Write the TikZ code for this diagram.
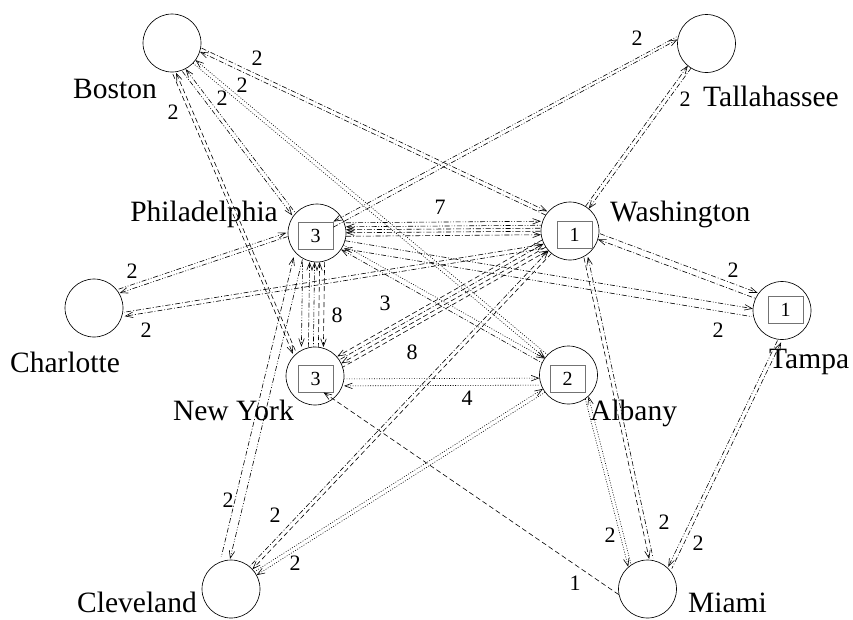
\documentclass[tikz,border=0pt]{standalone}
\usepackage{fontspec}
\setmainfont{Liberation Serif}
\usetikzlibrary{arrows.meta,calc}
\tikzset{
  city/.style={circle,draw,line width=0.65pt,minimum size=58pt,inner sep=0pt},
  cbox/.style={draw=black!55,line width=0.8pt,minimum width=35pt,minimum height=27pt,inner sep=0pt,font=\fontsize{20}{21}\selectfont},
  cname/.style={inner sep=0pt,font=\fontsize{29.5}{30}\selectfont},
  elab/.style={inner sep=0pt,font=\fontsize{22}{23}\selectfont},
  lnk/.style={line width=0.6pt,shorten <=29pt,shorten >=29pt},
  lnkb/.style={line width=0.6pt},
  ldot/.style={dash pattern=on 0.9pt off 1.6pt},
  ldash/.style={dash pattern=on 5pt off 3pt},
  ldd/.style={dash pattern=on 5pt off 2pt on 0.9pt off 2pt},
  lddd/.style={dash pattern=on 5pt off 1.8pt on 0.9pt off 1.8pt on 0.9pt off 1.8pt},
}
\newcommand\conn[5]{\draw[lnk,#4,#5] ($(#1)!#3!90:(#2)$) -- ($(#2)!#3!-90:(#1)$);}
\begin{document}
\begin{tikzpicture}[x=1pt,y=-1pt,>={Straight Barb[length=7.5pt,width=5.5pt]}]
\useasboundingbox (0,0) rectangle (853,619);
% cities
\node[city] (bos) at (172,43) {};
\node[city] (tal) at (706.5,43.5) {};
\node[city] (phi) at (317,233) {};
\node[city] (was) at (570,231) {};
\node[city] (cha) at (94,308) {};
\node[city] (tam) at (782,310.5) {};
\node[city] (ny)  at (315,376) {};
\node[city] (alb) at (568.5,375) {};
\node[city] (cle) at (231,589) {};
\node[city] (mia) at (647.5,589) {};
% boxes
\node[cbox] (phb) at (315.5,235.5) {3};
\node[cbox] (wab) at (574.5,235) {1};
\node[cbox] (tab) at (785.5,310) {1};
\node[cbox] (nyb) at (315.5,378.5) {3};
\node[cbox] (alx) at (567.5,378.5) {2};
% names
\node[cname,anchor=base west] (nbos) at (73,98) {Boston};
\node[cname,anchor=base west] (ntal) at (703,106) {Tallahassee};
\node[cname,anchor=base east] (nphi) at (278,221) {Philadelphia};
\node[cname,anchor=base west] (nwas) at (610,221) {Washington};
\node[cname,anchor=base west] (ncha) at (10,372) {Charlotte};
\node[cname,anchor=base west] (ntam) at (769,368) {Tampa};
\node[cname,anchor=base east] (nny)  at (294,420) {New York};
\node[cname,anchor=base west] (nalb) at (590,420) {Albany};
\node[cname,anchor=base east] (ncle) at (197,612) {Cleveland};
\node[cname,anchor=base west] (nmia) at (688,612) {Miami};
% Boston links
\conn{bos}{was}{4pt}{ldd}{<-}
\conn{bos}{was}{8pt}{ldd}{->}
\conn{bos}{alb}{2pt}{ldot}{<-}
\conn{bos}{alb}{-2pt}{ldot}{->}
\conn{bos}{phi}{-5pt}{lddd}{<-}
\conn{bos}{phi}{-9pt}{lddd}{->}
\conn{bos}{ny}{-8pt}{ldash}{<-}
\conn{bos}{ny}{-11.5pt}{ldash}{->}
% Tallahassee links
\draw[lnkb,lddd,<-] (phb.north east) -- (tal.165);
\draw[lnkb,lddd,->] (phb.25) -- (tal.172);
\conn{was}{tal}{2pt}{ldd}{->}
\conn{was}{tal}{-2pt}{ldd}{<-}
% Philadelphia - Washington
\conn{phi}{was}{10pt}{lddd}{->}
\conn{phi}{was}{6pt}{lddd}{<-}
\conn{phi}{was}{3pt}{ldd}{<-}
\conn{phi}{was}{0pt}{ldd}{<-}
\conn{phi}{was}{-3.5pt}{ldd}{->}
% Charlotte
\conn{phi}{cha}{-6pt}{lddd}{->}
\conn{phi}{cha}{-10pt}{lddd}{<-}
\conn{was}{cha}{9pt}{ldd}{<-}
\conn{was}{cha}{13pt}{ldd}{->}
% Tampa
\conn{was}{tam}{2pt}{ldd}{<-}
\conn{was}{tam}{8pt}{ldd}{->}
\conn{phi}{tam}{-3pt}{lddd}{->}
\conn{phi}{tam}{-11pt}{lddd}{<-}
% Philadelphia - New York
\conn{phi}{ny}{-14pt}{lddd}{->}
\conn{phi}{ny}{-7pt}{ldd}{<-}
\conn{phi}{ny}{-2pt}{lddd}{<-}
\conn{phi}{ny}{3pt}{ldash}{<-}
\conn{phi}{ny}{8pt}{ldash}{->}
% Philadelphia - Albany
\conn{phi}{alb}{2.5pt}{ldot}{->}
\conn{phi}{alb}{-2.5pt}{lddd}{<-}
% Washington - New York
\conn{was}{ny}{-6pt}{ldash}{->}
\conn{was}{ny}{-2pt}{ldd}{<-}
\conn{was}{ny}{2pt}{ldash}{->}
\conn{was}{ny}{6pt}{ldash}{<-}
% New York - Albany
\conn{ny}{alb}{-3pt}{ldot}{->}
\conn{ny}{alb}{-10pt}{ldot}{<-}
% Cleveland
\conn{phi}{cle}{-8pt}{lddd}{->}
\conn{phi}{cle}{-17pt}{ldd}{<-}
\conn{was}{cle}{2pt}{ldash}{->}
\conn{was}{cle}{-2pt}{ldd}{<-}
\conn{alb}{cle}{2pt}{ldot}{->}
\conn{alb}{cle}{-2pt}{ldot}{<-}
% Miami
\draw[lnkb,ldash,->] (mia.191) -- (nyb.-60);
\draw[lnkb,ldot,->] (alb.-55) -- (mia.131);
\draw[lnkb,ldot,<-] (alb.-47) -- (mia.124);
\conn{was}{mia}{8pt}{ldash}{->}
\conn{was}{mia}{12pt}{ldd}{<-}
\conn{tam}{mia}{9pt}{lddd}{->}
\conn{tam}{mia}{13pt}{ldd}{<-}
% edge labels
\node[elab] (e1) at (257,58) {2};
\node[elab] (e2) at (242,85) {2};
\node[elab] (e3) at (222,98) {2};
\node[elab] (e4) at (173,112) {2};
\node[elab] (e5) at (637,38) {2};
\node[elab] (e6) at (685,99) {2};
\node[elab] (e7) at (440,207) {7};
\node[elab] (e8) at (132,271) {2};
\node[elab] (e9) at (146,330) {2};
\node[elab] (e10) at (733,270) {2};
\node[elab] (e11) at (718,330) {2};
\node[elab] (e12) at (337,315) {8};
\node[elab] (e13) at (385,303) {3};
\node[elab] (e14) at (412,352) {8};
\node[elab] (e15) at (467,398) {4};
\node[elab] (e16) at (228,500) {2};
\node[elab] (e17) at (275,515) {2};
\node[elab] (e18) at (295,563) {2};
\node[elab] (e19) at (575,583) {1};
\node[elab] (e20) at (610,535) {2};
\node[elab] (e21) at (664,522) {2};
\node[elab] (e22) at (698,543) {2};
\end{tikzpicture}
\end{document}
